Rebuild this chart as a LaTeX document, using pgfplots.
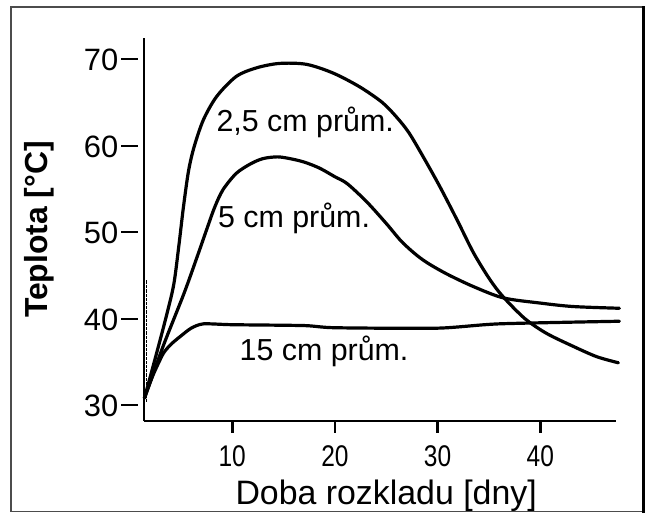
\documentclass[border=0pt]{standalone}
\usepackage{fontspec}
\setmainfont{Liberation Sans}
\usepackage{graphicx}
\usepackage{pgfplots}
\pgfplotsset{compat=1.18}

\begin{document}
\begin{tikzpicture}
\path[use as bounding box] (0,0) rectangle (647bp,513bp);
\begin{axis}[
  at={(144bp,92bp)}, anchor=south west,
  scale only axis, width=472bp, height=383bp,
  xmin=1.41, xmax=47.37, ymin=28.27, ymax=72.54,
  axis lines=left, axis line style={-},
  x axis line style={line width=2.6bp},
  y axis line style={line width=1.6bp},
  clip=false,
  xtick={10,20,30,40}, ytick={30,40,50,60,70},
  tick align=outside,
  major tick length=12bp,
  xtick style={draw=black, line width=2.6bp},
  ytick style={draw=none},
  /pgf/number format/assume math mode=true,
  xticklabel={\scalebox{0.82}[1]{\pgfmathprintnumber{\tick}}},
  yticklabel={\pgfmathprintnumber{\tick}\hspace{3bp}\rule[0.33em]{17bp}{2bp}},
  xticklabel style={font=\fontsize{30}{32}\selectfont, anchor=center, inner sep=0pt, yshift=-23bp},
  yticklabel style={font=\fontsize{31}{33}\selectfont, anchor=east, inner sep=0pt, xshift=6.5bp},
  xlabel={Doba rozkladu [dny]},
  ylabel={\textbf{Teplota [°C]}},
  xlabel style={font=\fontsize{34}{36}\selectfont, at={(axis description cs:0.513,-0.217)}, anchor=base},
  ylabel style={font=\fontsize{32}{34}\selectfont, at={(axis description cs:-0.222,0.5)}, anchor=center, rotate=0},
  every axis plot/.append style={black, line width=3.2bp, line join=round, line cap=round},
]
% 2,5 cm
\addplot[smooth, tension=0.5] coordinates {
(1.45,30.9) (2.5,35.5) (3.5,40.0) (4.3,44.0) (4.8,48.5) (5.25,53.0)
(5.75,57.2) (6.3,60.0) (7.2,63.1) (8.5,65.8) (10.4,68.1) (12.4,69.1)
(14.6,69.6) (17.2,69.5) (19.8,68.5) (22.4,66.9) (24.6,65.1) (26.0,63.4)
(27.2,61.6) (28.6,58.8) (30.2,55.4) (31.9,51.5) (33.5,47.7) (35.1,44.6)
(36.4,42.6) (38.5,40.1) (40.6,38.4) (43.2,36.9) (45.5,35.7) (47.6,35.0)
};
% 5 cm
\addplot[smooth, tension=0.5] coordinates {
(1.45,30.9) (3.3,37.0) (5.3,43.0) (6.6,47.3) (7.6,50.7) (8.3,53.0)
(9.1,55.0) (10.4,56.9) (11.8,58.0) (13.0,58.6) (14.4,58.8) (15.6,58.6)
(17.0,58.2) (18.5,57.5) (20.0,56.5) (21.2,55.7) (23.1,53.6) (25.0,51.1)
(26.5,49.0) (28.0,47.4) (29.2,46.4) (31.0,45.2) (33.5,43.8) (36.4,42.5) (40.0,41.9)
(43.2,41.5) (47.7,41.3)
};
% 15 cm
\addplot[smooth, tension=0.4] coordinates {
(1.45,30.9) (2.3,33.6) (3.3,36.1) (4.1,37.2) (4.9,38.0) (6.0,39.0)
(7.2,39.5) (10,39.4) (17,39.3) (20,39.05) (30,39.0) (36,39.5) (47.7,39.8)
};
% scan artefact along the axis
\addplot[densely dotted, line width=1.2bp, line cap=butt] coordinates {(1.65,30.5) (1.65,44.6)};

\node[anchor=base west, inner sep=0pt, font=\fontsize{30.5}{32}\selectfont] at (axis cs:8.45,61.7) {2,5 cm prům.};
\node[anchor=base west, inner sep=0pt, font=\fontsize{30.5}{32}\selectfont] at (axis cs:8.6,50.6) {5 cm prům.};
\node[anchor=base west, inner sep=0pt, font=\fontsize{30.5}{32}\selectfont] at (axis cs:10.7,35.3) {15 cm prům.};
\end{axis}
\draw[gray!60!black, line width=1.5bp] (11bp,1.5bp) rectangle (643bp,506bp);
\draw[black, line width=3bp] (643bp,0bp) -- (643bp,507bp);
\end{tikzpicture}
\end{document}
